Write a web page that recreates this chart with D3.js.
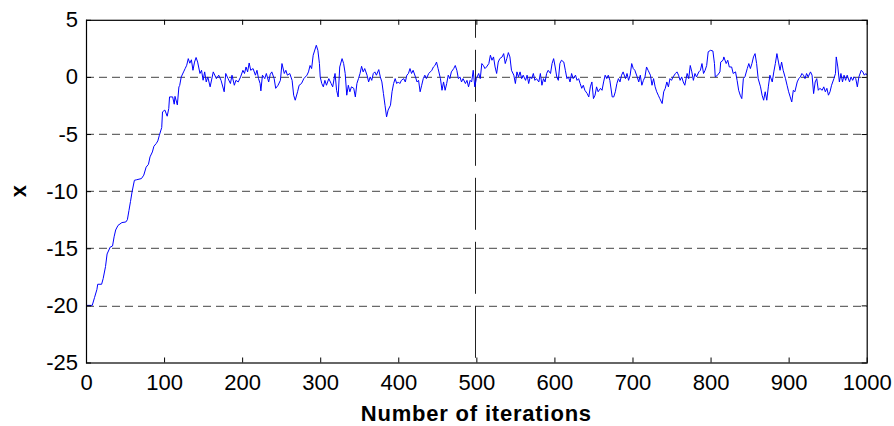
<!DOCTYPE html>
<html>
<head>
<meta charset="utf-8">
<script src="https://cdn.jsdelivr.net/npm/d3@7"></script>
<style>
  body { margin: 0; background: #fff; }
  svg { display: block; font-family: Arial, "Liberation Sans", sans-serif; }
</style>
</head>
<body>
<div id="chart"></div>
<script>
// Trace, one point every couple of iterations
const iterations = [
  0, 8, 11, 14, 15, 20, 22, 25, 27, 31, 34, 36, 38, 41, 46, 51, 53, 55, 57, 59,
  62, 65, 71, 74, 77, 80, 82, 85, 87, 90, 92, 94, 97, 98, 101, 104, 106, 107, 111, 113,
  114, 117, 119, 120, 122, 125, 127, 129, 131, 133, 135, 137, 139, 141, 143, 146, 148, 150, 152, 154,
  156, 159, 163, 167, 170, 173, 177, 179, 182, 185, 187, 190, 192, 195, 198, 201, 203, 205, 207, 209,
  211, 214, 217, 219, 221, 223, 224, 226, 229, 231, 234, 236, 238, 241, 243, 246, 249, 251, 254, 256,
  258, 261, 264, 266, 268, 271, 273, 276, 279, 283, 285, 287, 289, 291, 295, 297, 299, 300, 302, 304,
  306, 308, 311, 314, 316, 319, 321, 323, 325, 328, 330, 332, 334, 336, 338, 340, 343, 345, 347, 349,
  351, 353, 355, 357, 360, 362, 364, 366, 368, 370, 372, 375, 377, 379, 381, 383, 385, 387, 390, 392,
  394, 396, 398, 400, 402, 404, 407, 409, 411, 413, 415, 417, 419, 422, 424, 426, 428, 430, 432, 434,
  436, 439, 441, 443, 445, 447, 449, 451, 454, 456, 458, 460, 462, 464, 466, 468, 471, 473, 475, 477,
  479, 481, 483, 486, 488, 490, 492, 494, 496, 498, 500, 503, 505, 507, 509, 511, 513, 516, 518, 520,
  522, 524, 526, 528, 530, 533, 535, 537, 539, 541, 543, 545, 548, 550, 552, 554, 556, 558, 560, 563,
  565, 567, 569, 571, 573, 575, 577, 580, 582, 584, 586, 588, 590, 592, 595, 597, 599, 601, 603, 605,
  607, 609, 612, 614, 616, 618, 620, 622, 624, 627, 629, 631, 633, 635, 637, 639, 642, 644, 646, 648,
  650, 652, 654, 656, 659, 661, 663, 665, 667, 669, 671, 674, 676, 678, 680, 682, 684, 686, 688, 691,
  693, 695, 697, 699, 701, 703, 706, 708, 710, 712, 714, 716, 718, 720, 723, 725, 727, 729, 731, 733,
  735, 738, 740, 742, 744, 746, 748, 750, 752, 755, 757, 759, 761, 763, 765, 767, 770, 772, 774, 776,
  778, 780, 782, 785, 787, 789, 791, 793, 795, 797, 800, 803, 805, 806, 809, 812, 813, 816, 817, 820,
  822, 824, 827, 829, 832, 834, 836, 838, 840, 842, 844, 847, 849, 851, 853, 855, 857, 859, 861, 864,
  866, 868, 870, 872, 874, 876, 879, 881, 883, 885, 887, 889, 891, 893, 896, 898, 900, 902, 904, 906,
  908, 911, 913, 915, 917, 919, 921, 923, 925, 928, 930, 932, 934, 936, 938, 940, 943, 945, 947, 949,
  951, 953, 955, 958, 960, 961, 963, 965, 967, 969, 971, 973, 975, 978, 980, 982, 984, 986, 988, 990,
  993, 995, 997, 999, 1000
];
const xValues = [
  -20, -20, -19.3, -18.6, -18.15, -18.15, -17.65, -16.6, -15.5, -14.9, -14.8, -14.0, -13.4, -13.0, -12.75, -12.7, -12.5, -11.7, -10.9, -10.07,
  -9.05, -9.0, -8.9, -8.6, -7.9, -7.65, -7.0, -6.57, -6.07, -5.83, -5.6, -5.1, -4.43, -3.06, -2.9, -3.44, -2.77, -1.75, -1.75, -2.39,
  -1.7, -2.45, -0.88, -0.75, 0, 0.44, 0.73, 1.02, 1.6, 1.2, 1.5, 0.58, 1.3, 1.7, 1.3, 0.3, 0.58, -0.29, 0.44, -0.44,
  0, -0.87, 0.44, -0.15, 0.15, -0.3, -1.3, 0.3, -0.15, -0.58, 0.15, -0.73, -0.3, -0.44, 0, 0.58, 0.3, 0.87, 0.44, 1.22,
  0.58, 0.73, 0.15, 0.58, -0.15, -0.58, -1.22, 0.15, -0.15, 0.3, -0.44, 0.23, 0.44, -0.15, -1.0, -0.73, -0.3, 1.17, 0.3, 0.58,
  0.15, 0.3, -0.3, -1.6, -2.04, -1.3, -0.73, -0.58, -0.15, 0.15, 0.44, 1.0, 0.73, 1.9, 2.77, 2.33, 1.17, 0, -0.58, -0.87,
  -0.3, -0.73, -0.15, -0.58, -0.87, 0.3, -1.17, -1.75, 0.87, 1.6, 1.17, 0.3, -1.6, -0.73, -1.3, -0.87, -1.0, -1.75, -0.58, -0.15,
  0.3, 0.93, 0.44, 0.73, 0.15, -0.44, 0, -0.3, 0.3, 0.44, 0.15, 0.64, 0, -0.44, -1.46, -2.48, -3.5, -2.9, -2.48, -1.3,
  -0.58, -0.15, -0.58, -0.44, -0.58, -0.3, -0.15, -0.44, 0.15, 0.3, 0.73, 0.3, 0.58, 0, -0.44, -0.3, -1.3, -0.73, -0.15, 0.15,
  -0.15, 0.3, 0.44, 0.58, 0.87, 1.0, 1.3, 0.73, -0.15, -1.17, -0.44, -1.17, -0.58, 0.15, -0.15, 0.44, 0.73, 1.0, 0.58, -0.15,
  0, -0.44, -0.15, -0.58, -0.3, -0.87, -0.3, -0.44, 0.58, -0.87, -0.15, 0.3, -0.15, 1.17, 1.0, 0.73, 0.87, 1.17, 1.9, 1.46,
  1.75, 0.87, 0.3, 1.3, 1.6, 1.75, 2.04, 1.17, 1.6, 2.13, 1.75, 0.58, 0.15, -0.58, 0.44, 0, 0.44, -0.15, 0.15, -0.3,
  0.15, -0.58, 0, -0.15, 0.3, -0.3, -0.15, -0.44, 0.3, -0.73, -0.15, -0.44, 0.3, 0.58, 0.3, 1.17, 1.6, 0.87, 0, -0.3,
  1.17, 1.46, 1.3, 0.58, -0.15, 0, -0.44, 0.3, -0.15, 0.15, -0.3, -0.15, -0.58, -1.0, -0.73, -1.17, -1.46, -1.75, -0.87, -0.44,
  -1.9, -1.6, -0.87, -1.3, -1.0, -1.17, -0.44, 0.15, -0.15, 0.15, -0.3, -1.75, -1.75, -1.3, -0.58, -0.15, -0.44, 0.15, 0.44, -0.15,
  0.3, -0.3, 0.15, 1.17, 0.73, 0.58, 0, -0.44, 0.15, -0.73, -0.3, 0, 0.87, 0.58, 0.15, -0.73, -0.15, -0.87, -1.3, -1.6,
  -1.9, -2.33, -1.3, -1.0, -0.44, -0.87, -0.15, -0.3, 0, 0.3, 0.44, 0.15, -0.3, 0, -0.44, -0.73, 0.3, -0.15, 1.0, 0.44,
  -0.3, 0.3, 0, 0.44, 0.58, 1.17, 0.3, 0.58, 1.0, 2.2, 2.33, 2.27, 1.17, 0, 0.15, 0.44, 1.3, 1.46, 1.75, 1.17,
  1.46, 0.87, 0.87, 0.3, 0.44, -0.3, -1.17, -1.6, -1.9, -0.15, 0, 0.73, 1.17, 0.73, 1.17, 1.75, 2.04, 1.17, -0.15, -0.87,
  -1.6, -2.04, -1.3, -2.04, -0.87, 0.15, -0.44, 0.44, 1.17, 2.04, 1.3, 0.58, 1.3, 0.58, -0.15, -0.73, -1.3, -1.75, -2.19, -1.17,
  -1.3, -0.44, -0.15, 0, 0.3, 0.15, -0.15, 0.3, 0, 0.44, 0.15, -1.46, -0.44, -0.15, -1.17, -1.0, -1.17, -0.87, -1.3, -1.0,
  -1.6, -1.3, -0.73, -0.15, 0.3, 1.75, 0.87, -0.44, 0.3, -0.44, 0.15, -0.3, 0.15, -0.44, 0, -0.3, 0, -0.15, -0.87, 0,
  0.58, 0.44, 0.15, 0.3, 0.15
];

const xTicks = [0, 100, 200, 300, 400, 500, 600, 700, 800, 900, 1000];
const yTicks = [-25, -20, -15, -10, -5, 0, 5];
const gridLevels = [-20, -15, -10, -5, 0];
const markerIteration = 500;

const width = 894, height = 426;
const margin = { top: 19.8, right: 27.3, bottom: 63.5, left: 86 };
const innerWidth = width - margin.left - margin.right;
const innerHeight = height - margin.top - margin.bottom;

const data = iterations.map((it, i) => ({ it, v: xValues[i] }));

const x = d3.scaleLinear().domain([0, 1000]).range([0, innerWidth]);
const y = d3.scaleLinear().domain([-25, 5]).range([innerHeight, 0]);

// plain ASCII hyphen for negatives, no thousands separator (MATLAB style)
const plainFormat = d => String(d);

const svg = d3.select("#chart")
    .append("svg")
    .attr("width", width)
    .attr("height", height);

svg.append("rect")
    .attr("width", width)
    .attr("height", height)
    .attr("fill", "#fff");

const g = svg.append("g")
    .attr("transform", `translate(${margin.left}, ${margin.top})`);

// Dashed horizontal grid
g.selectAll(".grid-y")
    .data(gridLevels)
    .join("line")
    .attr("class", "grid-y")
    .attr("x1", 0)
    .attr("x2", innerWidth)
    .attr("y1", d => Math.round(y(d)) + 0.5)
    .attr("y2", d => Math.round(y(d)) + 0.5)
    .attr("stroke", "#444")
    .attr("stroke-width", 1)
    .attr("stroke-dasharray", "8,5");

// Long-dashed marker at iteration 500
g.append("line")
    .attr("x1", Math.round(x(markerIteration)) - 0.5)
    .attr("x2", Math.round(x(markerIteration)) - 0.5)
    .attr("y1", 0)
    .attr("y2", innerHeight)
    .attr("stroke", "#222")
    .attr("stroke-width", 1)
    .attr("stroke-dasharray", "52,12")
    .attr("stroke-dashoffset", 34);

// The trace
const line = d3.line()
    .x(d => x(d.it))
    .y(d => y(d.v));

g.append("path")
    .datum(data)
    .attr("fill", "none")
    .attr("stroke", "#0000ff")
    .attr("stroke-width", 1)
    .attr("d", line);

// Axes: ticks pointing inward on all four sides, labels only bottom/left
const styleAxis = sel => {
    sel.select(".domain").remove();
    sel.selectAll(".tick line").attr("stroke", "#000");
    sel.selectAll(".tick text")
        .attr("fill", "#000")
        .style("font-size", "22px")
        .style("font-family", "Arial, 'Liberation Sans', sans-serif");
};
const dropLabels = sel => sel.selectAll(".tick text").remove();

g.append("g")
    .attr("transform", `translate(0, ${innerHeight})`)
    .call(d3.axisBottom(x).tickValues(xTicks).tickSize(-5).tickPadding(12).tickFormat(plainFormat))
    .call(styleAxis);

g.append("g")
    .call(d3.axisTop(x).tickValues(xTicks).tickSize(-5))
    .call(styleAxis)
    .call(dropLabels);

g.append("g")
    .call(d3.axisLeft(y).tickValues(yTicks).tickSize(-5).tickPadding(8).tickFormat(plainFormat))
    .call(styleAxis);

g.append("g")
    .attr("transform", `translate(${innerWidth}, 0)`)
    .call(d3.axisRight(y).tickValues(yTicks).tickSize(-5))
    .call(styleAxis)
    .call(dropLabels);

// Plot box
g.append("rect")
    .attr("x", 0.5)
    .attr("y", 0.5)
    .attr("width", innerWidth)
    .attr("height", innerHeight)
    .attr("fill", "none")
    .attr("stroke", "#000")
    .attr("stroke-width", 1.2);

// Axis titles
svg.append("text")
    .attr("x", margin.left + innerWidth / 2)
    .attr("y", 421)
    .attr("text-anchor", "middle")
    .style("font-size", "22px")
    .style("font-weight", "bold")
    .style("letter-spacing", "0.8px")
    .text("Number of iterations");

svg.append("text")
    .attr("transform", `translate(26, ${margin.top + innerHeight / 2}) rotate(-90)`)
    .attr("text-anchor", "middle")
    .style("font-size", "22px")
    .style("font-weight", "bold")
    .text("x");
</script>
</body>
</html>
